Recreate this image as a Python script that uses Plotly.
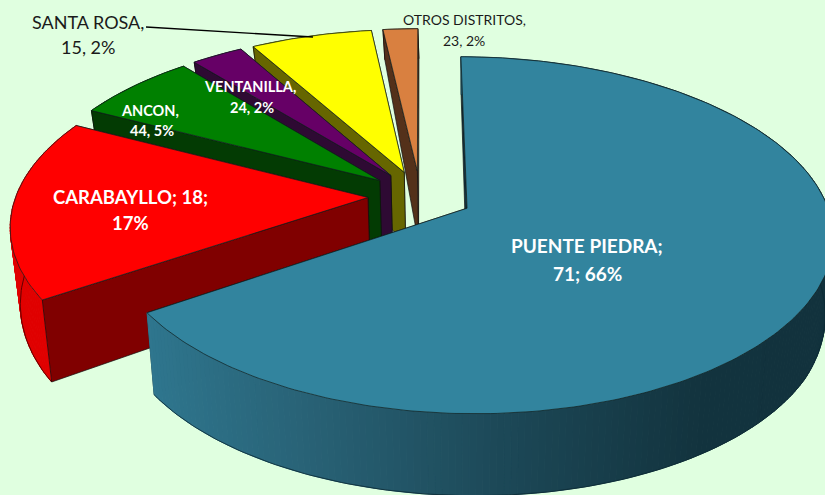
import numpy as np
import plotly.graph_objects as go

# --- data
categories = ["PUENTE PIEDRA", "CARABAYLLO", "ANCON", "VENTANILLA", "SANTA ROSA", "OTROS DISTRITOS"]
slice_values = [71, 18, 7, 3, 7, 2]   # slice sizes estimated from the drawn angles
label_lines = [
    ["PUENTE PIEDRA;", "71; 66%"],
    ["CARABAYLLO; 18;", "17%"],
    ["ANCON,", "44, 5%"],
    ["VENTANILLA,", "24, 2%"],
    ["SANTA ROSA,", "15, 2%"],
    ["OTROS DISTRITOS,", "23, 2%"],
]

# --- styles
top_colors = ["#32849E", "#FF0000", "#008000", "#660066", "#FFFF00", "#D98040"]
side_colors = ["#1C4A5A", "#800000", "#033B03", "#2E0A33", "#666600", "#54311A"]
outer_colors = ["#1C4A5A", "#E00000", "#033B03", "#2E0A33", "#666600", "#54311A"]
label_xy = [(587, 245, 587, 273), (130, 197, 130, 223), (150, 110, 152, 130),
            (250, 86, 252, 107), (88, 22, 88, 47), (464, 19, 464, 40)]
label_size = [19, 18.5, 14.5, 14.5, 18, 14]
label_color = ["white", "white", "white", "white", "#1a1a1a", "#1a1a1a"]
label_bold = [True, True, True, True, False, False]
BG = "#E0FFE0"

# --- 3D pie projection
CX, CY = 420.4, 196
B, A, K, E = 352, 170.7, 0.15, 0.01
PULL = 0.149


def project(X, Y):
    X, Y = np.asarray(X, float), np.asarray(Y, float)
    s = 1 / (1 + K * Y)
    f = 1 + E * np.clip(X, 0, None) ** 2
    return CX + B * X * s * f, CY - A * Y * s


def drop(x, y):
    """Bottom edge of the wall below a point of the top face."""
    d = np.interp(y, [30, 170, 297, 500], [30, 72, 82, 82])
    return x + (470 - x) * 0.022, y + d


def wall_color(x):
    stops_x = [150, 300, 500, 700, 825]
    stops = np.array([[0x2F, 0x76, 0x8E], [0x29, 0x63, 0x77], [0x1D, 0x49, 0x58], [0x13, 0x34, 0x3F], [0x12, 0x32, 0x3D]])
    c = [np.interp(x, stops_x, stops[:, i]) for i in range(3)]
    return "rgb(%d,%d,%d)" % tuple(c)


def poly(fig, x, y, fill, line=None, width=0.7):
    fig.add_trace(go.Scatter(x=list(x) + [x[0]], y=list(y) + [y[0]], mode="lines", fill="toself",
                             fillcolor=fill, line=dict(color=line or fill, width=width),
                             hoverinfo="skip", showlegend=False))


fig = go.Figure()
vals = np.array(slice_values, float)
edges = np.concatenate([[0], np.cumsum(vals)]) / vals.sum() * 2 * np.pi

for i in reversed(range(len(vals))):
    t0, t1 = edges[i], edges[i + 1]
    m = (t0 + t1) / 2
    ox, oy = PULL * np.sin(m), PULL * np.cos(m)
    th = np.linspace(t0, t1, max(8, int((t1 - t0) * 60)))
    rx, ry = project(ox + np.sin(th), oy + np.cos(th))
    ax, ay = project(ox, oy)
    ax, ay = float(ax), float(ay)
    bx, by = drop(rx, ry)
    abx, aby = drop(ax, ay)

    def radial(k, col):
        poly(fig, [ax, rx[k], bx[k], abx], [ay, ry[k], by[k], aby], col, "#101010")

    def outer():
        for j in range(0, len(th) - 1):
            col = wall_color((rx[j] + rx[j + 1]) / 2) if i == 0 else outer_colors[i]
            poly(fig, [rx[j], rx[j + 1], bx[j + 1], bx[j]], [ry[j], ry[j + 1], by[j + 1], by[j]], col, width=1)
        fig.add_trace(go.Scatter(x=bx, y=by, mode="lines",
                                 line=dict(color="#0b2a33" if i == 0 else "#400000", width=0.8),
                                 hoverinfo="skip", showlegend=False))

    if i == 0:
        radial(0, "#12343F")
        radial(-1, side_colors[i])
        outer()
    else:
        outer()
        radial(-1, side_colors[i])
        radial(0, side_colors[i])
    # top face
    poly(fig, [ax] + list(rx), [ay] + list(ry), top_colors[i], "#102020", 0.7)

# leader line of SANTA ROSA
leader_x, leader_y = [146, 313], [27, 37]
fig.add_trace(go.Scatter(x=leader_x, y=leader_y, mode="lines", line=dict(color="black", width=1.4),
                         hoverinfo="skip", showlegend=False))

for i, lines in enumerate(label_lines):
    x1, y1, x2, y2 = label_xy[i]
    for t, x, y in ((lines[0], x1, y1), (lines[1], x2, y2)):
        txt = f"<b>{t}</b>" if label_bold[i] else t
        fig.add_annotation(x=x, y=y, text=txt, showarrow=False, xanchor="center", yanchor="middle",
                           font=dict(family="Lato", size=label_size[i], color=label_color[i]))

fig.update_layout(width=825, height=495, margin=dict(l=0, r=0, t=0, b=0), autosize=False,
                  paper_bgcolor=BG, plot_bgcolor=BG, showlegend=False,
                  xaxis=dict(range=[0, 825], visible=False, fixedrange=True),
                  yaxis=dict(range=[495, 0], visible=False, fixedrange=True))
fig.write_html("out.html", config={"displayModeBar": False},
               post_script="document.body.style.margin='0';document.body.style.overflow='hidden';document.body.style.background='#E0FFE0';")
